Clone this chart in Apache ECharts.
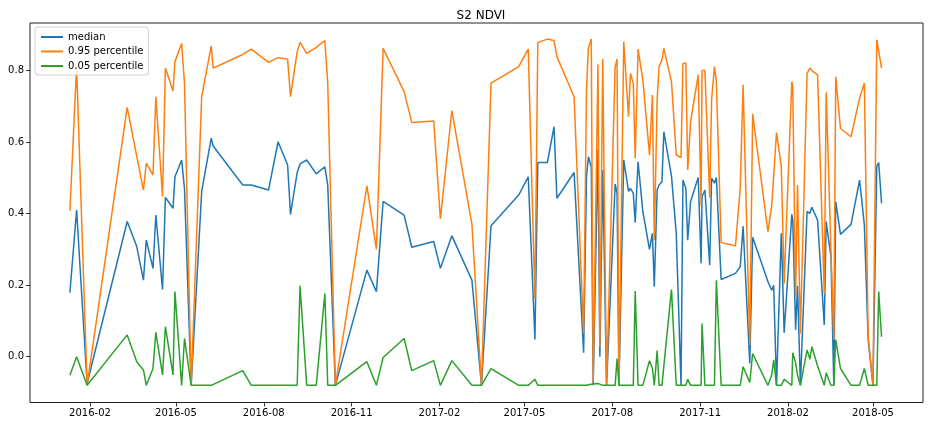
<!DOCTYPE html>
<html>
<head>
<meta charset="utf-8">
<script src="https://cdn.jsdelivr.net/npm/echarts@6/dist/echarts.min.js"></script>
<style>
html,body{margin:0;padding:0;background:#fff;}
#chart{width:933px;height:427px;}
</style>
</head>
<body>
<div id="chart"></div>
<script>
const dates = ['2016-01-11','2016-01-18','2016-01-29','2016-03-11','2016-03-21','2016-03-28','2016-03-31','2016-04-07','2016-04-10','2016-04-17',
'2016-04-20','2016-04-28','2016-04-30','2016-05-07','2016-05-10','2016-05-17','2016-05-28','2016-06-07','2016-06-09','2016-07-10',
'2016-07-19','2016-08-06','2016-08-16','2016-08-26','2016-08-29','2016-09-05','2016-09-08','2016-09-15','2016-09-25','2016-10-04',
'2016-10-07','2016-10-15','2016-11-17','2016-11-27','2016-12-04','2016-12-26','2017-01-03','2017-01-26','2017-02-02','2017-02-14',
'2017-03-07','2017-03-17','2017-03-27','2017-04-25','2017-05-05','2017-05-12','2017-05-15','2017-05-25','2017-06-01','2017-06-04',
'2017-06-22','2017-07-02','2017-07-05','2017-07-07','2017-07-10','2017-07-12','2017-07-17','2017-07-19','2017-07-22','2017-07-26',
'2017-08-04','2017-08-06','2017-08-08','2017-08-13','2017-08-18','2017-08-20','2017-08-23','2017-08-25','2017-08-28','2017-09-02',
'2017-09-09','2017-09-12','2017-09-14','2017-09-17','2017-09-19','2017-09-22','2017-09-24','2017-10-02','2017-10-07','2017-10-12',
'2017-10-14','2017-10-17','2017-10-19','2017-10-22','2017-10-30','2017-11-02','2017-11-03','2017-11-06','2017-11-11','2017-11-13',
'2017-11-16','2017-11-18','2017-11-23','2017-12-08','2017-12-13','2017-12-16','2017-12-23','2017-12-26','2018-01-11','2018-01-15',
'2018-01-17','2018-01-20','2018-01-25','2018-01-28','2018-02-05','2018-02-06','2018-02-09','2018-02-11','2018-02-14','2018-02-21',
'2018-02-24','2018-02-26','2018-03-04','2018-03-11','2018-03-13','2018-03-18','2018-03-21','2018-03-23','2018-03-28','2018-04-08',
'2018-04-17','2018-04-22','2018-04-26','2018-05-01','2018-05-05','2018-05-07','2018-05-10'];

const median = [0.179,0.410,-0.075,0.378,0.308,0.214,0.326,0.247,0.396,0.188,
0.445,0.415,0.503,0.550,0.470,-0.080,0.462,0.611,0.589,0.480,
0.480,0.466,0.601,0.536,0.398,0.515,0.539,0.550,0.511,0.531,
0.480,-0.080,0.242,0.182,0.434,0.396,0.306,0.322,0.247,0.338,
0.214,-0.080,0.366,0.452,0.503,0.048,0.543,0.543,0.643,0.443,
0.515,0.011,0.503,0.559,0.531,-0.080,0.578,0.000,0.522,-0.080,
0.483,0.457,-0.080,0.550,0.462,0.471,0.457,0.375,0.545,0.406,
0.300,0.345,0.196,0.466,0.480,0.489,0.629,0.505,0.345,-0.080,
0.494,0.471,0.326,0.434,0.501,0.261,0.448,0.466,0.256,0.499,
0.485,0.501,0.216,0.233,0.252,0.365,-0.019,0.334,0.210,0.186,
0.200,-0.080,0.345,0.067,0.398,0.382,0.075,0.198,-0.080,0.406,
0.401,0.418,0.382,0.089,0.378,0.280,-0.080,0.434,0.342,0.370,
0.494,0.368,0.047,-0.080,0.532,0.543,0.429];

const p95 = [0.408,0.811,-0.080,0.697,0.560,0.466,0.541,0.508,0.727,0.448,
0.807,0.743,0.825,0.876,0.765,-0.080,0.727,0.869,0.807,0.845,
0.860,0.823,0.836,0.832,0.727,0.853,0.879,0.848,0.865,0.884,
0.765,-0.080,0.478,0.300,0.862,0.741,0.655,0.659,0.385,0.688,
0.371,-0.080,0.765,0.811,0.860,0.163,0.878,0.888,0.884,0.839,
0.727,0.065,0.746,0.863,0.888,-0.070,0.817,0.028,0.832,-0.080,
0.811,0.832,-0.080,0.881,0.671,0.792,0.765,0.555,0.860,0.774,
0.564,0.732,0.326,0.718,0.811,0.830,0.862,0.769,0.564,0.557,
0.820,0.821,0.522,0.657,0.788,0.422,0.800,0.800,0.445,0.718,
0.811,0.769,0.319,0.310,0.471,0.760,0.033,0.679,0.350,0.424,
0.424,0.627,0.532,0.205,0.769,0.755,0.168,0.480,0.065,0.792,
0.807,0.800,0.788,0.177,0.739,0.300,0.047,0.783,0.638,0.615,
0.723,0.765,0.056,-0.080,0.886,0.888,0.807];

const p05 = [-0.052,0.000,-0.080,0.061,-0.014,-0.037,-0.080,-0.033,0.068,-0.051,
0.084,-0.051,0.182,-0.080,0.051,-0.080,-0.080,-0.080,-0.080,-0.039,
-0.080,-0.080,-0.080,-0.080,-0.080,-0.080,0.198,-0.080,-0.080,0.177,
-0.080,-0.080,-0.014,-0.080,-0.002,0.051,-0.039,-0.011,-0.080,-0.011,
-0.080,-0.080,-0.033,-0.080,-0.080,-0.063,-0.080,-0.080,-0.080,-0.080,
-0.080,-0.080,-0.080,-0.075,-0.077,-0.080,-0.075,-0.080,-0.080,-0.080,
-0.080,-0.005,-0.080,-0.080,-0.080,-0.080,-0.080,0.184,-0.080,-0.080,
-0.011,-0.033,-0.080,0.017,-0.080,-0.080,-0.080,0.188,-0.080,-0.080,
-0.080,-0.080,-0.063,-0.080,-0.080,-0.080,0.093,-0.080,-0.080,-0.080,
-0.080,0.214,-0.080,-0.080,-0.080,-0.028,-0.072,0.009,-0.080,-0.051,
-0.009,-0.080,-0.080,-0.063,-0.080,0.011,-0.017,-0.051,-0.080,0.019,
-0.007,0.028,-0.026,-0.080,-0.045,-0.080,-0.080,0.048,-0.033,-0.080,
-0.080,-0.033,-0.080,-0.080,-0.080,0.182,0.056];

const xTickLabels = ['2016-02','2016-05','2016-08','2016-11','2017-02','2017-05','2017-08','2017-11','2018-02','2018-05'];
const yTickValues = [0.0, 0.2, 0.4, 0.6, 0.8];

function utcTs(s) {
  const p = s.split('-').map(Number);
  return Date.UTC(p[0], p[1] - 1, p[2] || 1);
}
const DAY = 86400000;
const xTicks = xTickLabels.map(utcTs);
const xMin = utcTs('2016-02-01') - 62.8 * DAY;
const xMax = utcTs('2018-05-01') + 52.4 * DAY;

function pairs(vals) { return dates.map((d, i) => [utcTs(d), vals[i]]); }

const chart = echarts.init(document.getElementById('chart'), null, {renderer: 'canvas'});
const font = 'DejaVu Sans';
chart.setOption({
  animation: false,
  backgroundColor: '#fff',
  title: {
    text: 'S2 NDVI', left: 476, top: 5, textAlign: 'center',
    textStyle: {fontFamily: font, fontSize: 12, fontWeight: 'normal', color: '#000'}
  },
  grid: {left: 30, right: 10, top: 23, bottom: 24.5, show: true, borderColor: '#222', borderWidth: 1, backgroundColor: 'transparent'},
  legend: {
    orient: 'vertical', left: 35, top: 27,
    padding: [4, 5, 3, 6], itemGap: 2.5, itemWidth: 22, itemHeight: 2,
    backgroundColor: 'rgba(255,255,255,0.8)', borderColor: '#d0d0d0', borderWidth: 1, borderRadius: 3,
    icon: 'rect',
    textStyle: {fontFamily: font, fontSize: 10, color: '#000', lineHeight: 12},
    data: ['median', '0.95 percentile', '0.05 percentile']
  },
  xAxis: {
    type: 'value', min: xMin, max: xMax,
    axisLine: {show: false, onZero: false},
    axisTick: {show: true, length: 4, lineStyle: {color: '#000', width: 0.8}, customValues: xTicks},
    axisLabel: {
      customValues: xTicks, fontFamily: font, fontSize: 10, color: '#000', margin: 6, hideOverlap: false,
      formatter: function (v) { const i = xTicks.indexOf(v); return i >= 0 ? xTickLabels[i] : ''; }
    },
    splitLine: {show: false}
  },
  yAxis: {
    type: 'value', min: -0.128, max: 0.933,
    axisLine: {show: false, onZero: false},
    axisTick: {show: true, length: 4, lineStyle: {color: '#000', width: 0.8}, customValues: yTickValues},
    axisLabel: {
      customValues: yTickValues, fontFamily: font, fontSize: 10, color: '#000', margin: 6,
      formatter: function (v) { return v.toFixed(1); }
    },
    splitLine: {show: false}
  },
  series: [
    {name: 'median', type: 'line', data: pairs(median), showSymbol: false, symbol: 'none',
     lineStyle: {color: '#1f77b4', width: 1.5}, itemStyle: {color: '#1f77b4'}},
    {name: '0.95 percentile', type: 'line', data: pairs(p95), showSymbol: false, symbol: 'none',
     lineStyle: {color: '#ff7f0e', width: 1.5}, itemStyle: {color: '#ff7f0e'}},
    {name: '0.05 percentile', type: 'line', data: pairs(p05), showSymbol: false, symbol: 'none',
     lineStyle: {color: '#2ca02c', width: 1.5}, itemStyle: {color: '#2ca02c'}}
  ]
});
</script>
</body>
</html>
